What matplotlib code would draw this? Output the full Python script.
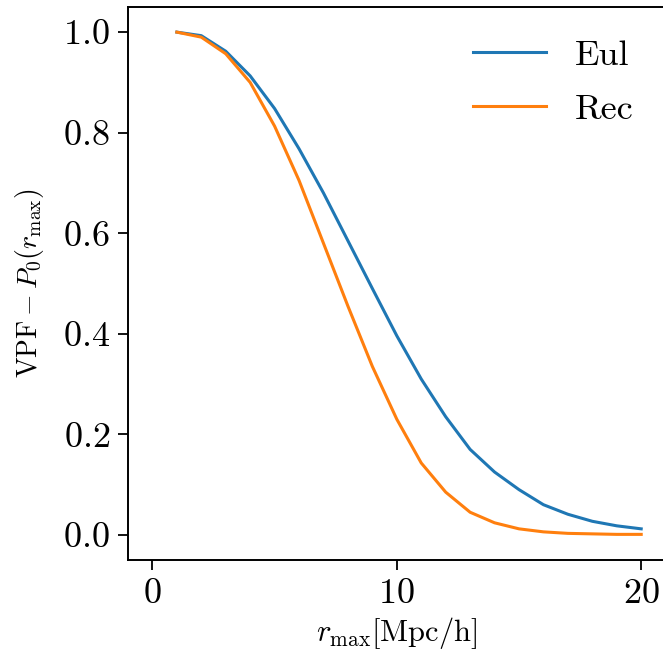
import numpy as np
from matplotlib import pyplot as plt

plt.rcParams['font.family'] = 'serif'
plt.rcParams['font.serif'] = ['cmr10']
plt.rcParams['mathtext.fontset'] = 'cm'
plt.rcParams['axes.formatter.use_mathtext'] = True

# r_max in Mpc/h
r_max = [1, 2, 3, 4, 5, 6, 7, 8, 9, 10, 11, 12, 13, 14, 15, 16, 17, 18, 19, 20]

vpf_eul = [1.0, 0.993, 0.962, 0.913, 0.848, 0.768, 0.68, 0.585, 0.49, 0.396,
           0.31, 0.235, 0.17, 0.125, 0.09, 0.06, 0.041, 0.027, 0.018, 0.012]
vpf_rec = [1.0, 0.99, 0.957, 0.90, 0.813, 0.705, 0.58, 0.455, 0.335, 0.23,
           0.143, 0.085, 0.045, 0.024, 0.012, 0.006, 0.003, 0.002, 0.001, 0.001]

fig = plt.figure(figsize=(6.63, 6.60), dpi=100)
ax = fig.add_axes([0.193, 0.1515, 0.811, 0.8379])

ax.plot(r_max, vpf_eul, color='#1f77b4', lw=2.2, label='Eul')
ax.plot(r_max, vpf_rec, color='#ff7f0e', lw=2.2, label='Rec')

ax.set_xlim(-1, 21)
ax.set_ylim(-0.05, 1.05)
ax.set_xticks([0, 10, 20])
ax.set_yticks([0.0, 0.2, 0.4, 0.6, 0.8, 1.0])
ax.tick_params(labelsize=26, length=7, width=1.3, pad=6)
for s in ax.spines.values():
    s.set_linewidth(1.4)

ax.set_xlabel(r'$r_{\rm max}[\mathrm{Mpc/h}]$', fontsize=22, labelpad=4)
ax.set_ylabel(r'$\mathrm{VPF} - P_0(r_{\rm max})$', fontsize=20, labelpad=12)

ax.legend(loc='upper right', frameon=False, fontsize=26, handlelength=2.0,
          borderaxespad=0.5, labelspacing=0.6)

fig.savefig('out.png', dpi=100)
